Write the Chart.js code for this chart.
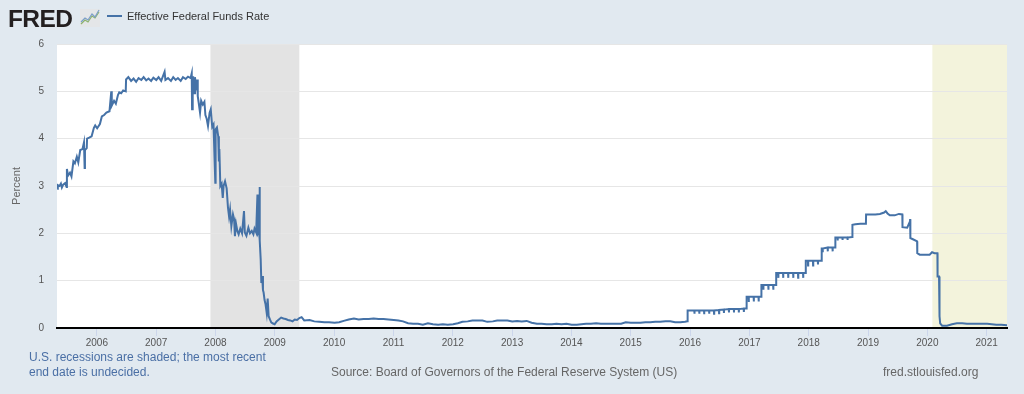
<!DOCTYPE html>
<html>
<head>
<meta charset="utf-8">
<title>Effective Federal Funds Rate</title>
<script src="https://cdn.jsdelivr.net/npm/chart.js@4.4.0/dist/chart.umd.min.js"></script>
<style>
  body {
    margin: 0;
    width: 1024px;
    height: 394px;
    background: #e1e9f0;
    font-family: "Liberation Sans", Arial, sans-serif;
    position: relative;
    overflow: hidden;
  }
  #graph { position: absolute; left: 0; top: 0; }
  .logo {
    position: absolute; left: 8px; top: 7px;
    font-size: 24.5px; line-height: 24px; font-weight: bold;
    color: #231f20; letter-spacing: -0.6px;
  }
  .icon { position: absolute; left: 80px; top: 9px; }
  .legend-line {
    position: absolute; left: 107px; top: 15px;
    width: 15px; height: 2px; background: #4572a7;
  }
  .legend-text {
    position: absolute; left: 127px; top: 10px;
    font-size: 11px; line-height: 13px; color: #333;
  }
  .note {
    position: absolute; left: 29px; top: 350px;
    font-size: 12px; line-height: 15px; color: #4a6fa5;
  }
  .source {
    position: absolute; left: 331px; top: 365px;
    font-size: 12px; line-height: 15px; color: #666;
  }
  .site {
    position: absolute; left: 883px; top: 365px;
    font-size: 12px; line-height: 15px; color: #666;
  }
</style>
</head>
<body>
<canvas id="graph" width="1024" height="394"></canvas>
<div class="logo">FRED</div>
<svg class="icon" width="20" height="18" viewBox="0 0 20 18">
  <rect x="0" y="0" width="20" height="18" fill="#e4e6e8"/>
  <polyline points="1,15 5,11 8,13 12,7 15,9 19,3" fill="none" stroke="#8db36a" stroke-width="1.2"/>
  <polyline points="1,13 5,9 8,11 12,5 15,8 19,1" fill="none" stroke="#7d9fc8" stroke-width="1.2"/>
</svg>
<div class="legend-line"></div>
<div class="legend-text">Effective Federal Funds Rate</div>
<div class="note">U.S. recessions are shaded; the most recent<br>end date is undecided.</div>
<div class="source">Source: Board of Governors of the Federal Reserve System (US)</div>
<div class="site">fred.stlouisfed.org</div>

<script>
// Effective Federal Funds Rate (percent)
var datesA = [
    '2005-05-02','2005-05-06','2005-05-16','2005-05-25','2005-05-31','2005-06-08','2005-06-20','2005-06-29','2005-07-01','2005-07-08','2005-07-20','2005-07-29','2005-08-10','2005-08-19','2005-08-31','2005-09-09','2005-09-21','2005-10-05','2005-10-14','2005-10-18','2005-10-20','2005-10-31','2005-11-02','2005-11-15','2005-11-30','2005-12-14','2005-12-22',
    '2006-01-03','2006-01-20','2006-02-01','2006-02-15','2006-03-01','2006-03-20','2006-03-31','2006-04-03','2006-04-17','2006-04-28','2006-05-11','2006-05-19','2006-05-31','2006-06-12','2006-06-28','2006-06-30','2006-07-14','2006-07-31','2006-08-15','2006-08-31','2006-09-15','2006-10-02','2006-10-16','2006-11-01','2006-11-15','2006-12-01','2006-12-15',
    '2007-01-02','2007-01-16','2007-02-01','2007-02-22','2007-02-27','2007-03-15','2007-04-02','2007-04-16','2007-05-01','2007-05-15','2007-06-01','2007-06-15','2007-07-02','2007-07-16','2007-08-01','2007-08-08','2007-08-10','2007-08-14','2007-08-17','2007-08-22','2007-08-28','2007-09-04','2007-09-10','2007-09-14','2007-09-19','2007-09-28','2007-10-05','2007-10-15','2007-10-25','2007-10-31','2007-11-08','2007-11-16','2007-11-26','2007-12-03','2007-12-12','2007-12-20','2007-12-31',
    '2008-01-02','2008-01-10','2008-01-18','2008-01-22','2008-01-25','2008-01-31','2008-02-08','2008-02-15','2008-02-20','2008-02-29','2008-03-10','2008-03-18','2008-03-25','2008-03-31','2008-04-08','2008-04-18','2008-04-25','2008-04-30','2008-05-07','2008-05-15','2008-05-23','2008-06-02','2008-06-13','2008-06-25','2008-06-30','2008-07-10','2008-07-22','2008-08-01','2008-08-12','2008-08-22','2008-08-29','2008-09-08','2008-09-16','2008-09-19','2008-09-26','2008-09-29','2008-10-01','2008-10-06','2008-10-10','2008-10-15','2008-10-20','2008-10-24','2008-10-30','2008-11-05','2008-11-12','2008-11-18','2008-11-24','2008-12-02','2008-12-10','2008-12-18','2008-12-31'
];
var ratesA = [
    2.94,3.02,3.00,3.05,2.97,3.03,3.06,2.98,3.36,3.22,3.28,3.20,3.52,3.48,3.62,3.50,3.76,3.78,3.92,3.38,3.76,3.80,4.00,4.02,4.05,4.23,4.28,
    4.22,4.31,4.47,4.50,4.55,4.58,5.00,4.70,4.80,4.74,4.92,4.98,4.96,5.02,5.00,5.25,5.30,5.22,5.27,5.20,5.28,5.24,5.30,5.23,5.27,5.22,5.29,
    5.24,5.30,5.22,5.41,5.24,5.28,5.22,5.30,5.24,5.28,5.22,5.30,5.26,5.31,5.28,5.38,4.62,5.10,5.32,4.96,5.30,5.02,5.25,4.90,4.78,4.55,4.80,4.72,4.78,4.50,4.42,4.27,4.55,4.62,4.25,4.30,3.07,
    4.20,4.24,4.05,3.52,3.78,3.00,3.05,2.75,3.00,3.10,2.95,2.55,2.35,2.50,2.15,2.40,2.30,1.94,2.20,2.05,1.98,2.10,2.00,2.47,2.02,1.95,2.12,2.00,2.05,1.98,2.10,2.02,2.82,2.00,2.05,2.98,1.85,1.45,0.95,1.10,0.80,0.75,0.59,0.50,0.32,0.62,0.25,0.18,0.12,0.10,0.08
];

var datesB = [
    '2009-01-12','2009-01-26','2009-02-09','2009-02-23','2009-03-09','2009-03-23','2009-04-06','2009-04-20','2009-05-04','2009-05-18','2009-06-01','2009-06-15','2009-07-01','2009-08-03','2009-09-01','2009-10-01','2009-11-02','2009-12-01',
    '2010-01-04','2010-02-01','2010-03-01','2010-04-01','2010-05-03','2010-06-01','2010-07-01','2010-08-02','2010-09-01','2010-10-01','2010-11-01','2010-12-01',
    '2011-01-03','2011-02-01','2011-03-01','2011-04-01','2011-05-02','2011-06-01','2011-07-01','2011-08-01','2011-09-01','2011-10-03','2011-11-01','2011-12-01',
    '2012-01-03','2012-02-01','2012-03-01','2012-04-02','2012-05-01','2012-06-01','2012-07-02','2012-08-01','2012-09-04','2012-10-01','2012-11-01','2012-12-03',
    '2013-01-02','2013-02-01','2013-03-01','2013-04-01','2013-05-01','2013-06-03','2013-07-01','2013-08-01','2013-09-03','2013-10-01','2013-11-01','2013-12-02',
    '2014-01-02','2014-02-03','2014-03-03','2014-04-01','2014-05-01','2014-06-02','2014-07-01','2014-08-01','2014-09-02','2014-10-01','2014-11-03','2014-12-01',
    '2015-01-02','2015-02-02','2015-03-02','2015-04-01','2015-05-01','2015-06-01','2015-07-01','2015-08-03','2015-09-01','2015-10-01','2015-11-02','2015-12-01','2015-12-16','2015-12-17'
];
var ratesB = [
    0.14,0.18,0.22,0.20,0.19,0.17,0.16,0.14,0.18,0.17,0.21,0.23,0.16,0.17,0.14,0.13,0.12,0.12,
    0.11,0.12,0.15,0.18,0.20,0.18,0.19,0.19,0.20,0.19,0.19,0.18,
    0.17,0.16,0.14,0.10,0.09,0.09,0.07,0.10,0.08,0.07,0.08,0.07,
    0.08,0.10,0.13,0.14,0.16,0.16,0.16,0.13,0.14,0.16,0.16,0.16,
    0.14,0.15,0.14,0.15,0.11,0.09,0.09,0.08,0.08,0.09,0.08,0.09,
    0.07,0.07,0.08,0.09,0.09,0.10,0.09,0.09,0.09,0.09,0.09,0.12,
    0.11,0.11,0.11,0.12,0.12,0.13,0.13,0.14,0.14,0.12,0.12,0.13,0.14,0.37
];

var datesC = [
    '2016-01-27','2016-01-28','2016-01-29','2016-02-26','2016-02-27','2016-02-28','2016-03-27','2016-03-28','2016-03-29','2016-04-27','2016-04-28','2016-04-29','2016-05-27','2016-05-28','2016-05-29','2016-06-27','2016-06-28','2016-06-29','2016-07-27','2016-07-28','2016-07-29','2016-08-27','2016-08-28','2016-08-29','2016-09-27','2016-09-28','2016-09-29','2016-10-27','2016-10-28','2016-10-29','2016-11-27','2016-11-28','2016-11-29','2016-12-14','2016-12-15','2016-12-27','2016-12-28','2016-12-29',
    '2017-01-27','2017-01-28','2017-01-29','2017-02-26','2017-02-27','2017-02-28','2017-03-15','2017-03-16','2017-03-27','2017-03-28','2017-03-29','2017-04-27','2017-04-28','2017-04-29','2017-05-27','2017-05-28','2017-05-29','2017-06-14','2017-06-15','2017-06-27','2017-06-28','2017-06-29','2017-07-27','2017-07-28','2017-07-29','2017-08-27','2017-08-28','2017-08-29','2017-09-27','2017-09-28','2017-09-29','2017-10-27','2017-10-28','2017-10-29','2017-11-27','2017-11-28','2017-11-29','2017-12-13','2017-12-14','2017-12-27','2017-12-28','2017-12-29',
    '2018-01-27','2018-01-28','2018-01-29','2018-02-26','2018-02-27','2018-02-28','2018-03-21','2018-03-22','2018-03-27','2018-03-28','2018-03-29','2018-04-27','2018-04-28','2018-04-29','2018-05-27','2018-05-28','2018-05-29','2018-06-13','2018-06-14','2018-06-27','2018-06-28','2018-06-29','2018-07-27','2018-07-28','2018-07-29','2018-08-27','2018-08-28','2018-08-29','2018-09-26','2018-09-27','2018-10-15','2018-11-15','2018-12-19','2018-12-20',
    '2019-01-15','2019-02-15','2019-03-15','2019-04-10','2019-04-20','2019-05-01','2019-05-15','2019-06-14','2019-07-10','2019-07-31','2019-08-01','2019-08-30','2019-09-16','2019-09-17','2019-09-18','2019-09-19','2019-10-01','2019-10-30','2019-10-31','2019-11-15','2019-12-16',
    '2020-01-15','2020-01-30','2020-02-14','2020-03-03','2020-03-04','2020-03-13','2020-03-16','2020-03-20','2020-04-01','2020-04-15','2020-05-01','2020-06-01','2020-07-01','2020-08-03','2020-09-01','2020-10-01','2020-11-02','2020-12-01',
    '2021-01-04','2021-02-01','2021-03-01','2021-04-01','2021-05-06'
];
var ratesC = [
    0.37,0.30,0.37,0.37,0.30,0.37,0.37,0.29,0.37,0.37,0.30,0.37,0.37,0.30,0.37,0.38,0.31,0.38,0.39,0.32,0.39,0.40,0.33,0.40,0.40,0.33,0.40,0.40,0.33,0.40,0.41,0.34,0.41,0.41,0.66,0.66,0.55,0.66,
    0.66,0.56,0.66,0.66,0.56,0.66,0.66,0.91,0.91,0.81,0.91,0.91,0.81,0.91,0.91,0.81,0.91,0.91,1.16,1.16,1.06,1.16,1.16,1.06,1.16,1.16,1.06,1.16,1.16,1.06,1.16,1.16,1.06,1.16,1.16,1.06,1.16,1.16,1.42,1.42,1.32,1.42,
    1.42,1.32,1.42,1.42,1.34,1.42,1.42,1.68,1.68,1.60,1.68,1.70,1.62,1.70,1.70,1.62,1.70,1.70,1.91,1.91,1.85,1.91,1.91,1.86,1.91,1.91,1.86,1.91,1.92,2.18,2.19,2.20,2.20,2.40,
    2.40,2.40,2.41,2.44,2.47,2.42,2.38,2.38,2.41,2.40,2.13,2.12,2.25,2.30,2.25,1.90,1.88,1.83,1.58,1.55,1.55,
    1.55,1.60,1.58,1.58,1.09,1.09,0.25,0.10,0.05,0.05,0.05,0.08,0.10,0.10,0.09,0.09,0.09,0.09,
    0.09,0.08,0.07,0.07,0.06
];

// Axes
var yearTicks = [2006, 2007, 2008, 2009, 2010, 2011, 2012, 2013, 2014, 2015, 2016, 2017, 2018, 2019, 2020, 2021];
var percentTicks = [0, 1, 2, 3, 4, 5, 6];
var firstDate = '2005-05-01';
var lastDate = '2021-05-06';

// Recessions (the last one has no end date yet)
var recessionStarts = ['2007-12-01', '2020-02-01'];
var recessionEnds = ['2009-06-01', '2021-05-06'];

// Convert 'YYYY-MM-DD' to a decimal year for the linear x axis
function toYear(s) {
    var p = s.split('-').map(Number);
    var start = Date.UTC(p[0], 0, 1);
    var end = Date.UTC(p[0] + 1, 0, 1);
    return p[0] + (Date.UTC(p[0], p[1] - 1, p[2]) - start) / (end - start);
}

function buildPoints() {
    var dates = datesA.concat(datesB, datesC);
    var rates = ratesA.concat(ratesB, ratesC);
    if (dates.length !== rates.length) {
        throw new Error('dates/rates mismatch: ' + dates.length + ' vs ' + rates.length);
    }
    var points = [];
    for (var i = 0; i < dates.length; i++) {
        points.push({ x: toYear(dates[i]), y: rates[i] });
    }
    return points;
}

// White plot area + recession shading, drawn before grid and line
var shadingPlugin = {
    id: 'shading',
    beforeDraw: function(chart) {
        var ctx = chart.ctx;
        var area = chart.chartArea;
        var xs = chart.scales.x;
        var fills = ['#e3e3e3', '#f3f3dc'];
        ctx.save();
        ctx.fillStyle = '#ffffff';
        ctx.fillRect(area.left, area.top, area.right - area.left, area.bottom - area.top);
        for (var i = 0; i < recessionStarts.length; i++) {
            var x0 = Math.max(area.left, xs.getPixelForValue(toYear(recessionStarts[i])));
            var x1 = Math.min(area.right, xs.getPixelForValue(toYear(recessionEnds[i])));
            ctx.fillStyle = fills[i];
            ctx.fillRect(x0, area.top, x1 - x0, area.bottom - area.top);
        }
        ctx.restore();
    }
};

var font = '"Liberation Sans", Arial, sans-serif';

var ctx = document.getElementById('graph').getContext('2d');
window.myChart = new Chart(ctx, {
    type: 'line',
    data: {
        datasets: [{
            label: 'Effective Federal Funds Rate',
            data: buildPoints(),
            borderColor: '#4572a7',
            borderWidth: 2,
            pointRadius: 0,
            tension: 0,
            fill: false
        }]
    },
    options: {
        responsive: false,
        animation: false,
        devicePixelRatio: 1,
        layout: { padding: { left: 0, right: 17, top: 44, bottom: 36 } },
        plugins: {
            legend: { display: false },
            tooltip: { enabled: false }
        },
        scales: {
            x: {
                type: 'linear',
                min: toYear(firstDate),
                max: toYear(lastDate),
                afterBuildTicks: function(scale) {
                    scale.ticks = yearTicks.map(function(v) { return { value: v }; });
                },
                afterFit: function(scale) { scale.height = 30; },
                grid: {
                    drawOnChartArea: false,
                    drawTicks: true,
                    tickLength: 8,
                    color: '#ccd6eb'
                },
                border: { display: true, color: '#000000', width: 2 },
                ticks: {
                    autoSkip: false,
                    maxRotation: 0,
                    padding: 1,
                    color: '#555555',
                    font: { family: font, size: 10 },
                    callback: function(v) { return String(v); }
                }
            },
            y: {
                min: 0,
                max: 6,
                afterBuildTicks: function(scale) {
                    scale.ticks = percentTicks.map(function(v) { return { value: v }; });
                },
                afterFit: function(scale) { scale.width = 57; },
                grid: { color: '#e6e6e6', drawTicks: false },
                border: { display: false },
                ticks: {
                    padding: 13,
                    color: '#555555',
                    font: { family: font, size: 10 }
                },
                title: {
                    display: true,
                    text: 'Percent',
                    color: '#666666',
                    font: { family: font, size: 11 },
                    padding: { top: 10, bottom: 0 }
                }
            }
        }
    },
    plugins: [shadingPlugin]
});
</script>
</body>
</html>
